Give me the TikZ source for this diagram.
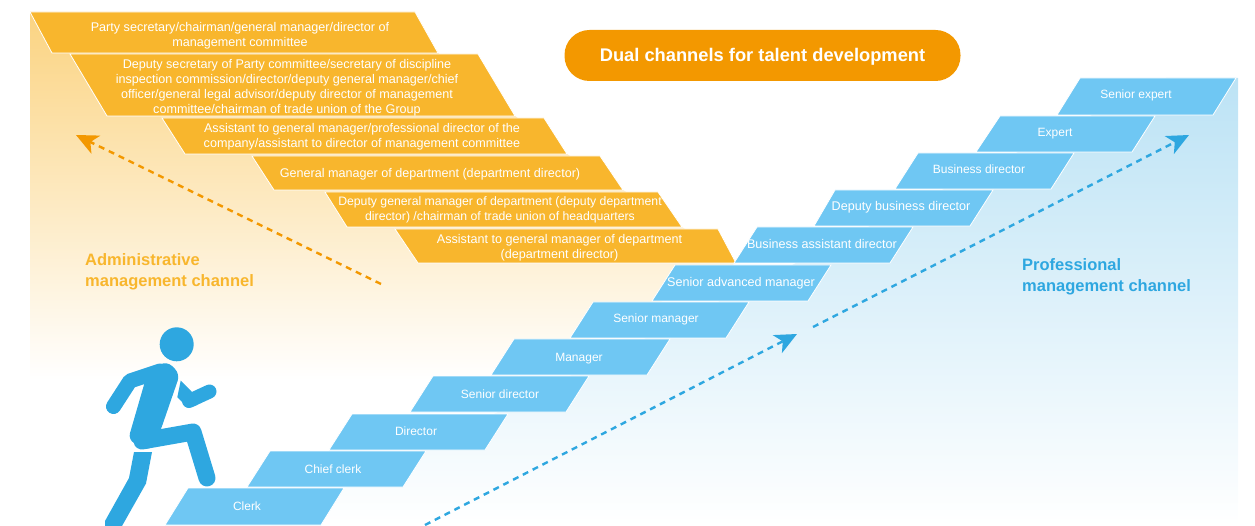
\documentclass[tikz,border=0pt]{standalone}
\usepackage{fontspec}
\setmainfont{Liberation Sans}
\usetikzlibrary{arrows.meta}
\definecolor{stepOrange}{HTML}{F8B62D}
\definecolor{stepBlue}{HTML}{6FC7F3}
\definecolor{titleOrange}{HTML}{F39800}
\definecolor{channelBlue}{HTML}{2EA7E0}
\tikzset{
    orangestep/.style={fill=stepOrange, draw=white!100, line width=0.8pt},
    bluestep/.style={fill=stepBlue, draw=white!100, line width=0.8pt},
    steplabel/.style={text=white, align=center, inner sep=0pt, yshift=-1pt, font=\fontsize{12}{15}\selectfont},
    widelabel/.style={steplabel, font=\fontsize{12.6}{15}\selectfont},
    channellabel/.style={align=left, anchor=west, inner sep=0pt, yshift=-1.5pt, font=\fontsize{16.5}{21}\selectfont\bfseries},
    orangearrow/.style={titleOrange, line width=2.4pt, dash pattern=on 6pt off 5pt, -{Stealth[length=22pt,width=20pt,inset=6pt]}},
    bluearrow/.style={channelBlue, line width=2.4pt, dash pattern=on 6pt off 5pt, -{Stealth[length=22pt,width=20pt,inset=6pt]}},
    limb/.style={channelBlue, line cap=round, line join=round}
}
\begin{document}
\begin{tikzpicture}[x=1pt,y=-1pt]
    \useasboundingbox (0,0) rectangle (1255,526);

    % backgrounds
    \shade[top color=stepOrange!60!white, bottom color=white] (30,12) -- (415,12) -- (438,53) -- (515,116) -- (567,154) -- (623,190) -- (682,227) -- (736,263) -- (510,380) -- (30,380) -- cycle;
    \shade[top color=channelBlue!32!white, bottom color=white] (1166,78) -- (1238,78) -- (1238,526) -- (270,526) -- cycle;

    % administrative steps
    \filldraw[orangestep] (30,12) -- (415,12) -- (438,53) -- (52,53) -- cycle;
    \filldraw[orangestep] (70,54) -- (478,54) -- (515,116) -- (107,116) -- cycle;
    \filldraw[orangestep] (162,118) -- (544,118) -- (567,154) -- (185,154) -- cycle;
    \filldraw[orangestep] (252,156) -- (600,156) -- (623,190) -- (274,190) -- cycle;
    \filldraw[orangestep] (325,192) -- (658,192) -- (682,227) -- (347,227) -- cycle;
    \filldraw[orangestep] (395,229) -- (718,229) -- (736,263) -- (418,263) -- cycle;

    \node[widelabel] (secretary) at (240,34.5) {Party secretary/chairman/general manager/director of\\management committee};
    \node[widelabel] (deputy) at (287,86.5) {Deputy secretary of Party committee/secretary of discipline\\inspection commission/director/deputy general manager/chief\\officer/general legal advisor/deputy director of management\\committee/chairman of trade union of the Group};
    \node[widelabel] (assistant) at (362,136) {Assistant to general manager/professional director of the\\company/assistant to director of management committee};
    \node[widelabel] (general) at (430,173.5) {General manager of department (department director)};
    \node[steplabel, font=\fontsize{12.25}{15}\selectfont] (deputygeneral) at (500,209) {Deputy general manager of department (deputy department\\director) /chairman of trade union of headquarters};
    \node[widelabel] (deptassistant) at (559.5,247) {Assistant to general manager of department\\(department director)};

    % professional steps
    \filldraw[bluestep] (188,488) -- ++(156,0) -- ++(-23,37) -- ++(-156,0) -- cycle;
    \filldraw[bluestep] (270,451) -- ++(156,0) -- ++(-23,36) -- ++(-156,0) -- cycle;
    \filldraw[bluestep] (352,414) -- ++(156,0) -- ++(-23,36) -- ++(-156,0) -- cycle;
    \filldraw[bluestep] (433,376) -- ++(156,0) -- ++(-23,36) -- ++(-156,0) -- cycle;
    \filldraw[bluestep] (514,339) -- ++(156,0) -- ++(-23,36) -- ++(-156,0) -- cycle;
    \filldraw[bluestep] (593,302) -- ++(156,0) -- ++(-23,36) -- ++(-156,0) -- cycle;
    \filldraw[bluestep] (675,265) -- ++(156,0) -- ++(-23,36) -- ++(-156,0) -- cycle;
    \filldraw[bluestep] (757,227) -- ++(156,0) -- ++(-23,36) -- ++(-156,0) -- cycle;
    \filldraw[bluestep] (835,190) -- ++(158,0) -- ++(-23,36) -- ++(-156,0) -- cycle;
    \filldraw[bluestep] (918,153) -- ++(156,0) -- ++(-23,36) -- ++(-156,0) -- cycle;
    \filldraw[bluestep] (1000,116) -- ++(155,0) -- ++(-23,36) -- ++(-156,0) -- cycle;
    \filldraw[bluestep] (1080,78) -- ++(156,0) -- ++(-23,37) -- ++(-156,0) -- cycle;

    \node[steplabel] (clerk) at (247,505) {Clerk};
    \node[steplabel] (chiefclerk) at (333,468) {Chief clerk};
    \node[steplabel] (director) at (416,430) {Director};
    \node[steplabel] (seniordirector) at (500,393) {Senior director};
    \node[steplabel] (manager) at (579,357.5) {Manager};
    \node[steplabel] (seniormanager) at (656,318) {Senior manager};
    \node[widelabel] (advancedmanager) at (741,282) {Senior advanced manager};
    \node[widelabel] (businessassistant) at (822,243) {Business assistant director};
    \node[widelabel] (deputybusiness) at (901,206.5) {Deputy business director};
    \node[steplabel] (businessdirector) at (979,168) {Business director};
    \node[steplabel] (expert) at (1055,132.5) {Expert};
    \node[steplabel] (seniorexpert) at (1136,94) {Senior expert};

    % title
    \node[fill=titleOrange, rounded corners=25pt, minimum width=396pt, minimum height=51pt, inner sep=0pt] (title) at (762.5,55.5) {};
    \node[text=white, inner sep=0pt, yshift=-1.5pt, font=\fontsize{18.3}{22}\selectfont\bfseries] (titletext) at (title.center) {Dual channels for talent development};

    % channel names
    \node[channellabel, text=stepOrange] (administrative) at (85,270.5) {Administrative\\management channel};
    \node[channellabel, text=channelBlue] (professional) at (1022,275.5) {Professional\\management channel};

    % arrows
    \coordinate (adminstart) at (381,284);
    \coordinate (admintip) at (76,135);
    \coordinate (lowstart) at (425,525);
    \coordinate (lowtip) at (797,334);
    \coordinate (highstart) at (813,327);
    \coordinate (hightip) at (1189,135);
    \draw[orangearrow] (adminstart) -- (admintip);
    \draw[bluearrow] (lowstart) -- (lowtip);
    \draw[bluearrow] (highstart) -- (hightip);

    % runner
    \fill[channelBlue] (176.7,344.3) circle (17);
    \fill[channelBlue, rounded corners=7pt] (148,371) -- (167,361) -- (180,374) -- (160,432) -- (150,451) -- (128,440) -- cycle;
    \draw[limb, line width=15pt] (113.5,406.5) -- (130,381) -- (160,371);
    \draw[limb, line width=17pt] (142,441) -- (193,432) -- (207,478);
    \fill[channelBlue] (180.7,380.7) -- (191.7,391.7) -- (197,405) -- (188,408) -- (177.3,397.3) -- cycle;
    \draw[limb, line width=14pt] (189,401) -- (209.5,391.5);
    \fill[channelBlue] (134,452) -- (152,452) -- (146,483.5) -- (122,526) -- (105,526) -- (105,521) -- (129,478) -- cycle;
\end{tikzpicture}
\end{document}
